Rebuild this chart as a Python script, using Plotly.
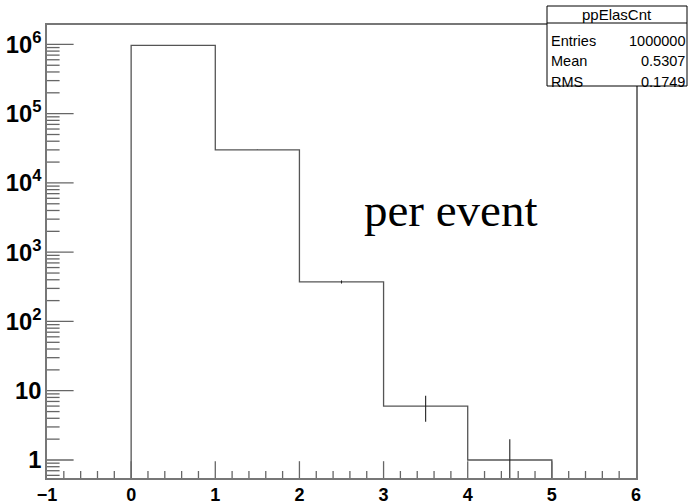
import math
import plotly.graph_objects as go

# Histogram ppElasCnt: number of pp elastic scatterings per event
bin_edges = [0, 1, 2, 3, 4, 5]
bin_counts = [969661, 29960, 372, 6, 1]

stats_title = "ppElasCnt"
stats_rows = [("Entries", "1000000"), ("Mean", "0.5307"), ("RMS", "0.1749")]

x_major = [0, 1, 2, 3, 4, 5]
x_minor_step = 0.2
decades = [0, 1, 2, 3, 4, 5, 6]
minor_digits = [2, 3, 4, 5, 6, 7, 8, 9]

W, H = 688, 501
L, R, T, B = 47, 52, 25, 23
x_lo, x_hi = -1, 6
y_lo, y_hi = -0.26, 6.28
floor_val = 10 ** (y_lo - 1)  # below the visible range, clipped by the axes
y_bottom = 10 ** y_lo

# step outline of the histogram
sx, sy = [bin_edges[0]], [floor_val]
for i, c in enumerate(bin_counts):
    sx += [bin_edges[i], bin_edges[i + 1]]
    sy += [c, c]
sx.append(bin_edges[-1])
sy.append(floor_val)

# Poisson error bars at bin centres
ex, ey = [], []
for i, c in enumerate(bin_counts):
    xc = 0.5 * (bin_edges[i] + bin_edges[i + 1])
    err = math.sqrt(c)
    ex += [xc, xc, None]
    ey += [max(c - err, floor_val), c + err, None]

fig = go.Figure()
fig.add_trace(go.Scatter(x=sx, y=sy, mode="lines",
                         line=dict(color="#555555", width=1.3),
                         hoverinfo="skip", showlegend=False))
fig.add_trace(go.Scatter(x=ex, y=ey, mode="lines",
                         line=dict(color="#222222", width=1.1),
                         hoverinfo="skip", showlegend=False))

# tick marks: line symbols centred on the axis, the outer half clipped away
tick_col = "#666666"


def tick_marks(xs, ys, symbol, size):
    fig.add_trace(go.Scatter(
        x=xs, y=ys, mode="markers", cliponaxis=True, hoverinfo="skip",
        showlegend=False,
        marker=dict(symbol=symbol, size=size,
                    line=dict(color=tick_col, width=1.3))))


n_minor = int(round((x_hi - x_lo) / x_minor_step))
x_minor = [round(x_lo + k * x_minor_step, 6) for k in range(1, n_minor)]
x_minor = [v for v in x_minor if abs(v - round(v)) > 1e-6]
tick_marks(x_major, [y_bottom] * len(x_major), "line-ns", 24)
tick_marks(x_minor, [y_bottom] * len(x_minor), "line-ns", 10)

y_major = [10 ** e for e in decades]
y_minor = [d * 10 ** e for e in [-1] + decades for d in minor_digits]
y_minor = [v for v in y_minor if y_lo < math.log10(v) < y_hi]
tick_marks([x_lo] * len(y_major), y_major, "line-ew", 38)
tick_marks([x_lo] * len(y_minor), y_minor, "line-ew", 18)

axis_line = "#777777"
x_font = dict(family="Liberation Sans", size=18, color="black", weight="bold")
y_font = dict(family="Liberation Sans", size=19, color="black", weight="bold")

fig.update_layout(
    xaxis=dict(range=[x_lo, x_hi], tickmode="linear", tick0=-1, dtick=1, ticks="",
               showgrid=False, zeroline=False, showline=True, linecolor=axis_line,
               linewidth=1.5, mirror=True, tickfont=x_font, automargin=False),
    yaxis=dict(type="log", range=[y_lo, y_hi], tickmode="linear", tick0=0, dtick=1,
               exponentformat="power", ticks="", showgrid=False, zeroline=False,
               showline=True, linecolor=axis_line, linewidth=1.5, mirror=True,
               tickfont=y_font, automargin=False),
)


def px_x(p):
    return (p - L) / (W - L - R)


def px_y(p):
    return (H - B - p) / (H - T - B)


# statistics box
box_l, box_r, box_t, box_b, box_sep = 547, 687, 6, 86, 23
fig.add_shape(type="rect", xref="paper", yref="paper",
              x0=px_x(box_l), x1=px_x(box_r), y0=px_y(box_b), y1=px_y(box_t),
              line=dict(color="black", width=1), fillcolor="white", layer="above")
fig.add_shape(type="line", xref="paper", yref="paper",
              x0=px_x(box_l), x1=px_x(box_r), y0=px_y(box_sep), y1=px_y(box_sep),
              line=dict(color="black", width=1), layer="above")

stat_font = dict(family="Liberation Sans", size=14.5, color="black")
fig.add_annotation(text=stats_title, xref="paper", yref="paper",
                   x=px_x((box_l + box_r) / 2), y=px_y(14), showarrow=False,
                   xanchor="center", yanchor="middle",
                   font=dict(family="Liberation Sans", size=15, color="black"))
for k, (name, val) in enumerate(stats_rows):
    yy = px_y(41 + 20.5 * k)
    fig.add_annotation(text=name, xref="paper", yref="paper", x=px_x(box_l + 2), y=yy,
                       showarrow=False, xanchor="left", yanchor="middle", font=stat_font)
    fig.add_annotation(text=val, xref="paper", yref="paper", x=px_x(box_r), y=yy,
                       showarrow=False, xanchor="right", yanchor="middle", font=stat_font)

fig.add_annotation(text="per event", xref="paper", yref="paper",
                   x=px_x(451), y=px_y(210), showarrow=False,
                   xanchor="center", yanchor="middle",
                   font=dict(family="Liberation Serif", size=47, color="black"))

fig.update_layout(width=W, height=H, margin=dict(l=L, r=R, t=T, b=B),
                  paper_bgcolor="white", plot_bgcolor="white")

fig.write_html("out.html")
